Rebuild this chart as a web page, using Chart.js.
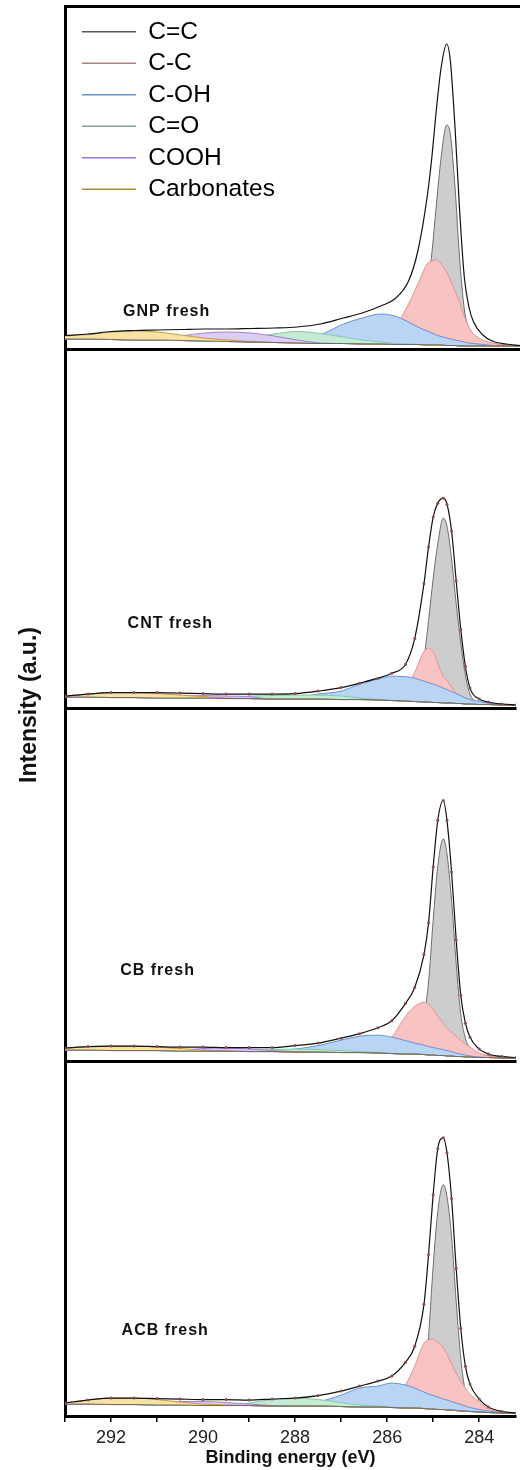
<!DOCTYPE html>
<html>
<head>
<meta charset="utf-8">
<script src="https://cdn.jsdelivr.net/npm/chart.js@4.4.1/dist/chart.umd.min.js"></script>
<style>
  html, body { margin: 0; padding: 0; background: #fff; overflow: hidden; }
  #fig { position: relative; width: 520px; height: 1470px; }
  .panel { position: absolute; left: 0; }
  #ytitle {
    position: absolute; left: -123px; top: 693px; width: 300px; height: 24px;
    text-align: center; line-height: 24px; color: #111;
    font: bold 23px 'Liberation Sans', Arial, sans-serif;
    transform: rotate(-90deg);
  }
</style>
</head>
<body>
<div id="fig">
  <canvas id="p1" class="panel" width="520" height="349" style="top:3px"></canvas>
  <canvas id="p2" class="panel" width="520" height="366" style="top:346px"></canvas>
  <canvas id="p3" class="panel" width="520" height="359" style="top:706px"></canvas>
  <canvas id="p4" class="panel" width="520" height="411" style="top:1059px"></canvas>
  <div id="ytitle">Intensity (a.u.)</div>
</div>
<script>
// binding energy grid (eV), shared by all panels
const energy = [293, 292.5, 292, 291.5, 291, 290.5, 290, 289.5, 289, 288.5, 288, 287.5, 287, 286.6, 286.2, 285.9,
  285.6, 285.4, 285.2, 285.1, 285.0, 284.9, 284.78, 284.7, 284.6, 284.5, 284.4, 284.3, 284.2, 284.0, 283.8, 283.5, 283.2];
const tickLabels = [292, 290, 288, 286, 284];
const seriesNames = ['C=C', 'C-C', 'C-OH', 'C=O', 'COOH', 'Carbonates'];

// GNP fresh
const base1 = [10,10,9.5,9,9,8.5,8,7.5,7,6.5,6,5.5,5.5,5,5,4.5,4.5,4.5,4,4,4,4,3.5,3.5,3.5,3,3,3,3,3,3,3,3];
const cc1   = [10,10,9.5,9,9,8.5,8,7.5,7,6.5,6,5.5,5.5,5,5,5,6,20,57,95,145,191,224,215,162,90,40,20,12,8,5,4,3];
const c_c1  = [10,10,9.5,9,9,8.5,8,7.5,7,6.5,6,5.5,6,7,12,22,45,65,85,88,89,85,77,69,58,47,33,22,15,9,6,4,3];
const coh1  = [10,10,9.5,9,9,8.5,8,7.5,7,6.5,7,14,25,31,35,33,27,22,18,16,14,12.5,11,10,9,8,7,6,5.5,4.5,3.5,3,3];
const co1   = [10,10,9.5,9,9,8.5,8,8,11,15,17.5,15.5,12,9,7,5.5,5,4.5,4,4,4,4,3.5,3.5,3.5,3,3,3,3,3,3,3,3];
const cooh1 = [10,10,9.5,9.5,10.5,13,16,17,16,13,9,6,5.5,5,5,4.5,4.5,4.5,4,4,4,4,3.5,3.5,3.5,3,3,3,3,3,3,3,3];
const carb1 = [13,14.5,17,18,17,14,11,9,7.5,6.5,6,5.5,5.5,5,5,4.5,4.5,4.5,4,4,4,4,3.5,3.5,3.5,3,3,3,3,3,3,3,3];
const fit1  = [13.5,15,17.5,18.5,19,19.5,20,20,20.5,21,22,25,31,36,43,50,68,98,152,191,240,281,305,288,222,138,72,42,27,14,8,5,3.5];

// CNT fresh
const base2 = [11,11,10.5,10.5,10,10,10,9.5,9.5,9,9,9,8.5,8.5,8,7.5,7,6.5,6,6,5.5,5.5,5,5,5,4.5,4.5,4,4,3.5,3.5,3,3];
const cc2   = [11,11,10.5,10.5,10,10,10,9.5,9.5,9,9,9,8.5,8.5,8,7.5,7,17,50,88,130,165,191,183,150,105,65.5,33,14,5.5,4.5,3.5,3];
const c_c2  = [11,11,10.5,10.5,10,10,10,9.5,9.5,9,9,9,8.5,9,10,12,20,36,57,60,57,45,32,28,21,15,10,7,5.5,4,3.5,3,3];
const coh2  = [11,11,10.5,10.5,10,10,10,9.5,9.5,9,10,14,17,24,29,32,31.5,30,27,25.5,24,22.5,20,18.5,16.5,14.5,12.5,10,8.5,6.5,5,3.5,3];
const co2   = [11,11,10.5,10.5,10,10,10,10,12,12.5,13,13,12,10,8.5,7.5,7,6.5,6,6,5.5,5.5,5,5,5,4.5,4.5,4,4,3.5,3.5,3,3];
const cooh2 = [11,11,10.5,10.5,11,12,12.5,12,11.5,9,9,9,8.5,8.5,8,7.5,7,6.5,6,6,5.5,5.5,5,5,5,4.5,4.5,4,4,3.5,3.5,3,3];
const carb2 = [12,14,15.5,15.5,14.5,13,11.5,10,9.5,9,9,9,8.5,8.5,8,7.5,7,6.5,6,6,5.5,5.5,5,5,5,4.5,4.5,4,4,3.5,3.5,3,3];
const fit2  = [12,14,15.5,15.5,15.5,15,14.5,14,14,14,14.5,17,20.5,25,30,35,44,70,125,162,192,206,211,205,178,128,79,42,20,9,6,4,3];

// CB fresh
const base3 = [11,11,10.5,10.5,10.5,10,10,10,9.5,9.5,9,9,8.5,8.5,8,7.5,7,7,6.5,6,6,5.5,5.5,5,5,4.5,4.5,4,4,3.5,3.5,3,3];
const cc3   = [11,11,10.5,10.5,10.5,10,10,10,9.5,9.5,9,9,8.5,8.5,8,7.5,7,15,45,79.5,141.5,195.5,223.5,208.5,161.5,98,47,23,13,7,5.5,4,3];
const c_c3  = [11,11,10.5,10.5,10.5,10,10,10,9.5,9.5,9,9,8.5,10,15,24,45,55,59,57,52,45,38,33,29,25,21,17,14,8,5,3.5,3];
const coh3  = [11,11,10.5,10.5,10.5,10,10,10,9.5,10,12,15.5,21,25,26,24,20.5,18,16,14.5,13.5,12.5,11.5,10.5,9.5,8,7,6,5,4,3.5,3,3];
const co3   = [11,11,10.5,10.5,10.5,10,10,10.5,11,11.5,12,11.5,10.5,9.5,8.5,7.5,7,7,6.5,6,6,5.5,5.5,5,5,4.5,4.5,4,4,3.5,3.5,3,3];
const cooh3 = [11,11,10.5,10.5,10.5,11,12.5,13,12,10.5,9.5,9,8.5,8.5,8,7.5,7,7,6.5,6,6,5.5,5.5,5,5,4.5,4.5,4,4,3.5,3.5,3,3];
const carb3 = [13,14.5,15,15,14,12.5,11,10,9.5,9.5,9,9,8.5,8.5,8,7.5,7,7,6.5,6,6,5.5,5.5,5,5,4.5,4.5,4,4,3.5,3.5,3,3];
const fit3  = [13,14.5,15,15,14.5,14,14,13.5,13.5,13.5,15.5,18,23,27.5,33.5,40.5,58,74,107,139,195,242,262,242,190,122,66,38,24,12,7,4.5,3.5];

// ACB fresh
const base4 = [12,12,11.5,11.5,11,11,10.5,10.5,10.5,10,10,10,9.5,9,9,8.5,8,8,7.5,7,7,6.5,6.5,6,6,5.5,5,5,4.5,4,3.5,3,3];
const cc4   = [12,12,11.5,11.5,11,11,10.5,10.5,10.5,10,10,10,9.5,9,9,8.5,8,9,30,80,150,205,232,220,180,115,58,24,10,5,4,3,3];
const c_c4  = [12,12,11.5,11.5,11,11,10.5,10.5,10.5,10,10,10,9.5,9,9.5,12,31,50,73,76.5,77,74,69,62,52,43,35,28,22,14,7,4,3];
const coh4  = [12,12,11.5,11.5,11,11,10.5,10.5,10.5,10,10.5,14,21,28,30,33,31,28,24,22,20.5,19,17,16,14.5,13,11.5,10,8.5,6.5,5,3.5,3];
const co4   = [12,12,11.5,11.5,11,11,10.5,11,13,16.5,18,16.5,13.5,11,10,9,8,8,7.5,7,7,6.5,6.5,6,6,5.5,5,5,4.5,4,3.5,3,3];
const cooh4 = [12,12,11.5,12,13,14.5,14.5,13.5,12,10.5,10,10,9.5,9,9,8.5,8,8,7.5,7,7,6.5,6.5,6,6,5.5,5,5,4.5,4,3.5,3,3];
const carb4 = [13.5,16,18,18,16.5,14,12,11,10.5,10,10,10,9.5,9,9,8.5,8,8,7.5,7,7,6.5,6.5,6,6,5.5,5,5,4.5,4,3.5,3,3];
const fit4  = [13,16,18,18,17.5,17,16.5,16.5,16,17,18,20.5,25,30,35,40,54,70,112,162,222,268,279,264,218,148,88,50,32,17,9,4.5,3];

const fillColors   = ['#cdcdcd', '#f8c3c3', '#bad4f4', '#c6ebd4', '#ddcdf3', '#f7e1a4'];
const borderColors = ['#6e6e6e', '#f08e8e', '#5d95e2', '#82cba0', '#a47ddb', '#c99b30'];
const legendColors = ['#5a5a5a', '#b47e7e', '#5b94e2', '#82a38f', '#9d73d9', '#a88a3c'];

Chart.defaults.font.family = "'Liberation Sans', Arial, sans-serif";

function pts(arr) {
    return arr.map((v, i) => ({ x: energy[i], y: v }));
}

// sample name written inside each panel
const panelName = {
    id: 'panelName',
    afterDatasetsDraw(chart, args, opts) {
        const { ctx, scales } = chart;
        ctx.save();
        ctx.font = "bold 16px 'Liberation Sans', Arial, sans-serif";
        ctx.letterSpacing = '1px';
        ctx.fillStyle = '#111';
        ctx.textBaseline = 'alphabetic';
        ctx.fillText(opts.text, scales.x.getPixelForValue(opts.at[0]), scales.y.getPixelForValue(opts.at[1]));
        ctx.restore();
    }
};

// legend sits inside the plot, pushed a bit away from the frame
const legendNudge = {
    id: 'legendNudge',
    afterLayout(chart) {
        if (chart.legend && chart.options.plugins.legend.display) {
            chart.legend.left = chart.chartArea.left + 10;
            chart.legend.top = chart.chartArea.top + 6.5;
        }
    }
};

function makePanel(p) {
    const comps = [p.cc, p.c_c, p.coh, p.co, p.cooh, p.carb];
    const datasets = comps.map((arr, i) => ({
        label: seriesNames[i],
        data: pts(arr),
        borderColor: borderColors[i],
        backgroundColor: fillColors[i],
        borderWidth: 1,
        fill: { target: 7 },
        order: 7 - i
    }));
    datasets.push({
        label: 'fit',
        data: pts(p.fit),
        borderColor: '#111',
        borderWidth: 1.2,
        fill: false,
        pointRadius: p.dots ? 1.5 : 0,
        pointBackgroundColor: '#8a4c4c',
        pointBorderWidth: 0,
        order: 0
    });
    datasets.push({
        label: 'background',
        data: pts(p.base),
        borderColor: '#6a6a6a',
        borderWidth: 1,
        fill: false,
        order: 1
    });

    const scales = {
        x: {
            type: 'linear', reverse: true, min: 283.2, max: 293, position: 'bottom',
            ticks: {
                display: p.axis, stepSize: 1, includeBounds: false, autoSkip: false, maxRotation: 0,
                padding: 5, color: '#222', font: { size: 18 },
                callback: v => tickLabels.includes(v) ? String(v) : ''
            },
            grid: { display: p.axis, drawOnChartArea: false, drawTicks: p.axis, tickLength: 6, color: '#000', lineWidth: 1.5 },
            border: { display: true, color: '#000', width: 3 },
            title: {
                display: p.axis, text: 'Binding energy (eV)', color: '#111',
                font: { size: 18, weight: 'bold', lineHeight: 1 }, padding: { top: 0, bottom: 3 }
            },
            // fixed axis band so the frame lands where the picture has it
            afterFit: scale => { scale.height = p.axis ? 54 : 0; }
        },
        y: {
            min: 0, max: p.yMax,
            ticks: { display: false },
            grid: { display: false, drawTicks: false },
            border: { display: true, color: '#000', width: 3 }
        }
    };
    if (p.top) {
        scales.x2 = {
            type: 'linear', position: 'top',
            ticks: { display: false },
            grid: { display: false, drawTicks: false },
            border: { display: true, color: '#000', width: 3 }
        };
    }

    return new Chart(document.getElementById(p.id), {
        type: 'line',
        data: { datasets },
        options: {
            responsive: false,
            animation: false,
            devicePixelRatio: 1,
            events: [],
            layout: { padding: { left: 65, right: 0, top: 3, bottom: p.axis ? 0 : 3 } },
            elements: { line: { cubicInterpolationMode: 'monotone' }, point: { radius: 0 } },
            scales,
            plugins: {
                tooltip: { enabled: false },
                legend: {
                    display: p.legend,
                    position: 'chartArea',
                    align: 'start',
                    labels: {
                        usePointStyle: true,
                        pointStyleWidth: 54,
                        padding: 7,
                        color: '#111',
                        font: { size: 24.5 },
                        generateLabels: () => seriesNames.map((n, i) => ({
                            text: n, strokeStyle: legendColors[i], fillStyle: legendColors[i],
                            lineWidth: 1.5, pointStyle: 'line', datasetIndex: i, hidden: false
                        }))
                    }
                },
                panelName: { text: p.name, at: p.nameAt }
            }
        },
        plugins: [panelName, legendNudge]
    });
}

makePanel({ id: 'p1', name: 'GNP fresh', nameAt: [291.75, 33], yMax: 343, legend: true, top: true, axis: false, dots: false,
    base: base1, cc: cc1, c_c: c_c1, coh: coh1, co: co1, cooh: cooh1, carb: carb1, fit: fit1 });
makePanel({ id: 'p2', name: 'CNT fresh', nameAt: [291.64, 80], yMax: 360, legend: false, top: false, axis: false, dots: true,
    base: base2, cc: cc2, c_c: c_c2, coh: coh2, co: co2, cooh: cooh2, carb: carb2, fit: fit2 });
makePanel({ id: 'p3', name: 'CB fresh', nameAt: [291.8, 86], yMax: 353, legend: false, top: false, axis: false, dots: true,
    base: base3, cc: cc3, c_c: c_c3, coh: coh3, co: co3, cooh: cooh3, carb: carb3, fit: fit3 });
makePanel({ id: 'p4', name: 'ACB fresh', nameAt: [291.77, 81], yMax: 354, legend: false, top: false, axis: true, dots: true,
    base: base4, cc: cc4, c_c: c_c4, coh: coh4, co: co4, cooh: cooh4, carb: carb4, fit: fit4 });
</script>
</body>
</html>
